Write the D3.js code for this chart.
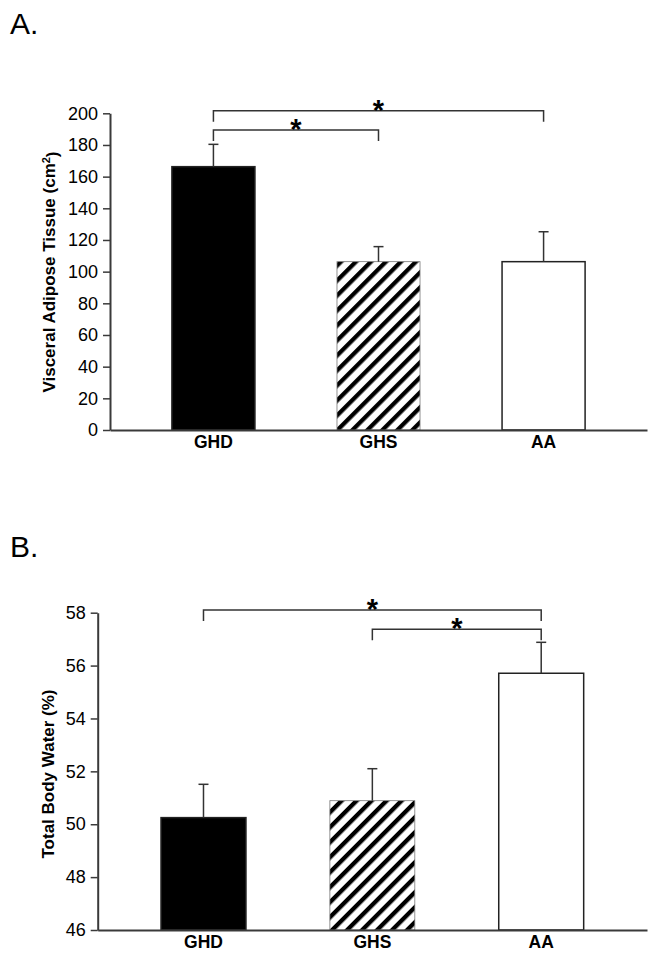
<!DOCTYPE html>
<html>
<head>
<meta charset="utf-8">
<script src="https://cdn.jsdelivr.net/npm/d3@7"></script>
<style>
  html, body { margin: 0; padding: 0; background: #fff; }
  svg { display: block; }
  text { font-family: Arial, "Liberation Sans", sans-serif; fill: #000; }
</style>
</head>
<body>
<svg id="chart" width="659" height="960"></svg>
<script>
// ---------- data ----------
const categories = ["GHD", "GHS", "AA"];
const fills = ["solid", "hatch", "open"];

// Panel A: visceral adipose tissue (cm^2)
const vatMeans = [166.3, 106.3, 106.3];
const vatSE = [14.1, 9.5, 18.9];
const vatTicks = [0, 20, 40, 60, 80, 100, 120, 140, 160, 180, 200];
const vatBrackets = [
  { from: "GHD", to: "AA", y: 201.6 },
  { from: "GHD", to: "GHS", y: 189.4 }
];

// Panel B: total body water (%)
const tbwMeans = [50.25, 50.89, 55.71];
const tbwSE = [1.26, 1.21, 1.17];
const tbwTicks = [46, 48, 50, 52, 54, 56, 58];
const tbwBrackets = [
  { from: "GHD", to: "AA", y: 58.1 },
  { from: "GHS", to: "AA", y: 57.37 }
];

// ---------- drawing ----------
const svg = d3.select("#chart");
const FONT = 'Arial, "Liberation Sans", sans-serif';
const AXIS_COLOR = "#3a3a3a";

const defs = svg.append("defs");
const pat = defs.append("pattern")
  .attr("id", "hatch")
  .attr("patternUnits", "userSpaceOnUse")
  .attr("width", 10.6).attr("height", 10.6)
  .attr("patternTransform", "rotate(45)");
pat.append("rect").attr("width", 10.6).attr("height", 10.6).attr("fill", "#fff");
pat.append("rect").attr("x", 0).attr("y", 0).attr("width", 4.3).attr("height", 10.6).attr("fill", "#000");

function fillFor(kind) {
  if (kind === "solid") return "#000";
  if (kind === "hatch") return "url(#hatch)";
  return "#fff";
}

function panel(opts) {
  const { means, se, ticks, brackets, domain, xRange, yRange, yLabelX, yLabelY } = opts;
  const g = svg.append("g");

  const x = d3.scaleBand()
    .domain(categories)
    .range(xRange)
    .paddingInner(0.497)
    .paddingOuter(0.375);
  const y = d3.scaleLinear().domain(domain).range(yRange);

  // bars
  g.selectAll("rect.bar")
    .data(categories)
    .join("rect")
    .attr("class", "bar")
    .attr("x", d => x(d))
    .attr("width", x.bandwidth())
    .attr("y", (d, i) => y(means[i]))
    .attr("height", (d, i) => y(domain[0]) - y(means[i]))
    .attr("fill", (d, i) => fillFor(fills[i]))
    .attr("stroke", (d, i) => fills[i] === "hatch" ? "#777" : "#222")
    .attr("stroke-width", (d, i) => fills[i] === "hatch" ? 0.8 : 1.5);

  // error bars (upper only)
  const eb = g.selectAll("g.err").data(categories).join("g").attr("class", "err");
  eb.append("line")
    .attr("x1", d => x(d) + x.bandwidth() / 2)
    .attr("x2", d => x(d) + x.bandwidth() / 2)
    .attr("y1", (d, i) => y(means[i]))
    .attr("y2", (d, i) => y(means[i] + se[i]))
    .attr("stroke", "#333").attr("stroke-width", 1.5);
  eb.append("line")
    .attr("x1", d => x(d) + x.bandwidth() / 2 - 5)
    .attr("x2", d => x(d) + x.bandwidth() / 2 + 5)
    .attr("y1", (d, i) => y(means[i] + se[i]))
    .attr("y2", (d, i) => y(means[i] + se[i]))
    .attr("stroke", "#333").attr("stroke-width", 1.5);

  // significance brackets
  brackets.forEach(b => {
    const x1 = x(b.from) + x.bandwidth() / 2;
    const x2 = x(b.to) + x.bandwidth() / 2;
    const yy = y(b.y);
    g.append("path")
      .attr("d", `M${x1},${yy + 11}V${yy}H${x2}V${yy + 11}`)
      .attr("fill", "none").attr("stroke", "#333").attr("stroke-width", 1.5);
    g.append("text")
      .attr("x", (x1 + x2) / 2)
      .attr("y", yy + 9)
      .attr("text-anchor", "middle")
      .style("font-size", "29px").style("font-weight", "bold")
      .text("*");
  });

  // y axis
  const yAxis = g.append("g")
    .attr("transform", `translate(${xRange[0]},0)`)
    .call(d3.axisLeft(y).tickValues(ticks).tickSize(7).tickPadding(5).tickSizeOuter(0));
  yAxis.select(".domain").attr("stroke", AXIS_COLOR).attr("stroke-width", 2);
  yAxis.selectAll(".tick line").attr("stroke", AXIS_COLOR).attr("stroke-width", 1.5);
  yAxis.selectAll(".tick text").style("font-size", "18px").style("font-family", FONT).attr("fill", "#000");

  // x axis
  const xAxis = g.append("g")
    .attr("transform", `translate(0,${yRange[0]})`)
    .call(d3.axisBottom(x).tickSize(0).tickPadding(6).tickSizeOuter(0));
  xAxis.select(".domain").attr("stroke", AXIS_COLOR).attr("stroke-width", 2);
  xAxis.selectAll(".tick text").style("font-size", "17.5px").style("font-weight", "bold")
    .style("font-family", FONT).attr("fill", "#000");

  // y label
  const lab = g.append("text")
    .attr("transform", `translate(${yLabelX},${yLabelY}) rotate(-90)`)
    .attr("text-anchor", "middle")
    .style("font-size", "17px").style("font-weight", "bold");
  return { g, lab };
}

// Panel A
const A = panel({
  means: vatMeans, se: vatSE, ticks: vatTicks, brackets: vatBrackets,
  domain: [0, 200], xRange: [110, 647], yRange: [430, 113.3],
  yLabelX: 55, yLabelY: 272
});
A.lab.append("tspan").text("Visceral Adipose Tissue (cm");
A.lab.append("tspan").attr("dy", "-0.45em").style("font-size", "11px").text("2");
A.lab.append("tspan").attr("dy", "0.45em").text(")");

// Panel B
const B = panel({
  means: tbwMeans, se: tbwSE, ticks: tbwTicks, brackets: tbwBrackets,
  domain: [46, 58], xRange: [97.7, 647], yRange: [930, 612.7],
  yLabelX: 54, yLabelY: 774
});
B.lab.text("Total Body Water (%)");

// panel letters
svg.append("text").attr("x", 10).attr("y", 34).style("font-size", "30px").text("A.");
svg.append("text").attr("x", 10).attr("y", 557).style("font-size", "30px").text("B.");
</script>
</body>
</html>
